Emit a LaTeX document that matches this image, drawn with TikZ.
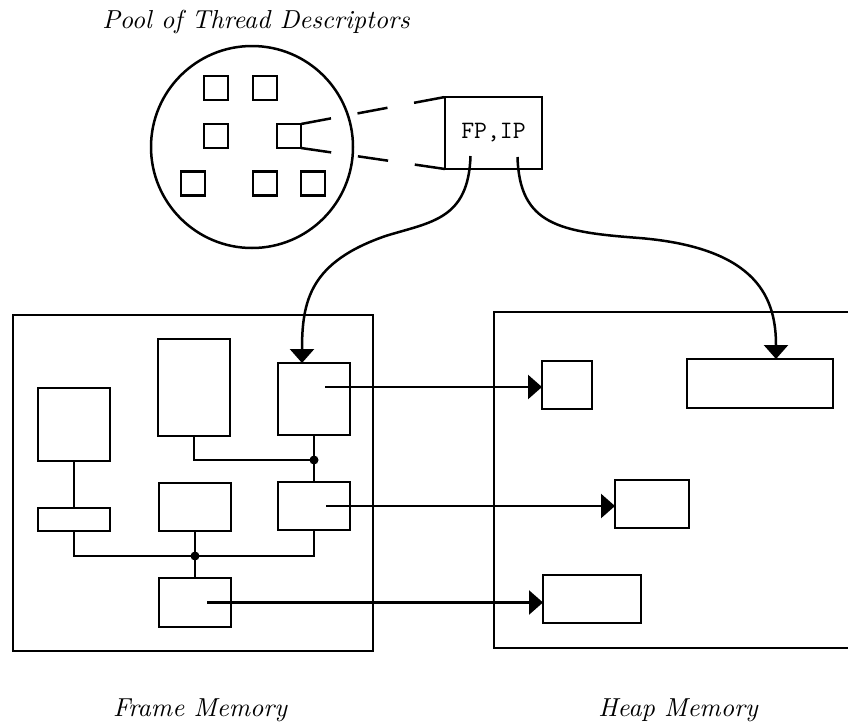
\documentclass[tikz,border=0pt]{standalone}
\usepackage{fontspec}
\newfontfamily\capfont{lmroman10-italic.otf}
\usepackage{tikz}
\usetikzlibrary{positioning, arrows.meta, calc}

\begin{document}
\begin{tikzpicture}[x=1pt, y=-1pt]
	% Define styles
	\tikzset{
		block/.style={rectangle, draw, line width=2.5pt, inner sep=0pt, outer sep=0pt},
		desc/.style={block, minimum size=24pt},
		wire/.style={draw, line width=2.5pt},
		line/.style={draw, line width=2.5pt, -{Triangle[length=14pt, width=24pt]}},
		zoomline/.style={draw, line width=2.5pt, dash pattern=on 30.5pt off 27pt},
		joint/.style={circle, fill, inner sep=0pt, minimum size=9pt},
		memlabel/.style={font=\fontsize{26}{30}\capfont, anchor=base}
	}
	\useasboundingbox (0,0) rectangle (848,726);
	
	% Pool of thread descriptors
	\node[circle, draw, line width=2.5pt, inner sep=0pt, minimum size=202pt] (pool) at (252,147) {};
	\node[desc] (td1) at (216,88) {};
	\node[desc] (td2) at (265,88) {};
	\node[desc] (td3) at (216,136) {};
	\node[desc] (td4) at (289,136) {};
	\node[desc] (td5) at (193,183.5) {};
	\node[desc] (td6) at (265,183.5) {};
	\node[desc] (td7) at (313,183.5) {};
	
	\node[block, minimum width=97pt, minimum height=72pt, font=\fontsize{25}{28}\selectfont\ttfamily] (fpip) at (493.5,133) {FP,IP};
	
	% Frame memory
	\node[block, minimum width=360pt, minimum height=336pt] (frame) at (193,483) {};
	\node[block, minimum width=72pt, minimum height=73pt] (fa) at (74,424.5) {};
	\node[block, minimum width=72pt, minimum height=97pt] (fb) at (194,387.5) {};
	\node[block, minimum width=72pt, minimum height=72pt] (fc) at (314,399) {};
	\node[block, minimum width=72pt, minimum height=23pt] (fd) at (74,519.5) {};
	\node[block, minimum width=72pt, minimum height=48pt] (fe) at (195,507) {};
	\node[block, minimum width=72pt, minimum height=48pt] (ff) at (314,506) {};
	\node[block, minimum width=72pt, minimum height=49pt] (fg) at (195,602.5) {};
	
	% Heap memory
	\node[block, minimum width=376pt, minimum height=336pt] (heap) at (682,480) {};
	\node[block, minimum width=50pt, minimum height=48pt] (h1) at (567,385) {};
	\node[block, minimum width=146pt, minimum height=49pt] (h2) at (760,383.5) {};
	\node[block, minimum width=74pt, minimum height=48pt] (h3) at (652,504) {};
	\node[block, minimum width=98pt, minimum height=48pt] (h4) at (592,599) {};
	
	% Labels
	\node[memlabel] (pooltitle) at (256,28) {Pool of Thread Descriptors};
	\node[memlabel] (frametitle) at (200,716) {Frame Memory};
	\node[memlabel] (heaptitle) at (678,716) {Heap Memory};
	
	% Zoom lines
	\draw[zoomline] (td4.north east) -- (fpip.north west);
	\draw[zoomline] (td4.south east) -- (fpip.south west);
	
	% Frame links
	\coordinate (j1) at ($(fc.south)+(0,25)$);
	\coordinate (j2) at ($(fe.south)+(0,25)$);
	\draw[wire] (fa.south) -- (fd.north);
	\draw[wire] (fb.south) |- (j1);
	\draw[wire] (fc.south) -- (ff.north);
	\draw[wire] (fd.south) |- (j2) -| (ff.south);
	\draw[wire] (fe.south) -- (fg.north);
	\node[joint] (k1) at (j1) {};
	\node[joint] (k2) at (j2) {};
	
	% Arrows
	\coordinate (c1) at ($(fc.center)+(11,-12)$);
	\coordinate (f1) at ($(ff.center)+(12,0)$);
	\coordinate (g1) at ($(fg.center)+(12,0)$);
	\draw[line] (c1) -- (c1 -| h1.west);
	\draw[line] (f1) -- (f1 -| h3.west);
	\draw[line] (g1) -- (g1 -| h4.west);
	
	\coordinate (fp) at ($(fpip.south)+(-23,-13)$);
	\coordinate (ip) at ($(fpip.south)+(24,-12)$);
	\draw[line] (fp) .. controls +(-2,64) and +(45,-14) .. ++(-85,80)
		.. controls +(-75,26) and +(0,-63) .. ([xshift=-12pt]fc.north);
	\draw[line] (ip) .. controls +(2,68) and +(-80,-6) .. ++(122,81)
		.. controls +(120,10) and +(0,-59) .. ([xshift=16pt]h2.north);
	
\end{tikzpicture}
\end{document}
